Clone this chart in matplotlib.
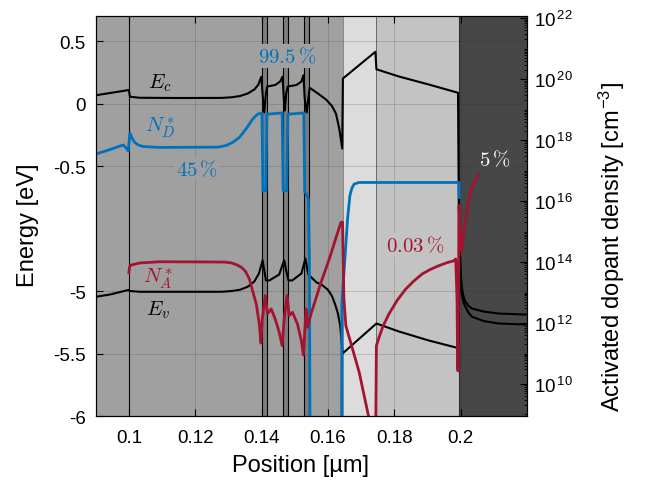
import numpy as np
import matplotlib
matplotlib.use('Agg')
import matplotlib.pyplot as plt
from matplotlib.ticker import LogLocator, NullFormatter, FixedLocator

plt.rcParams['font.family'] = ['Liberation Sans', 'DejaVu Sans']
plt.rcParams['mathtext.fontset'] = 'cm'

# layer stack, position in um
layer_edges = [0.09, 0.1645, 0.1745, 0.1995, 0.22]
layer_colors = ['#a0a0a0', '#dcdcdc', '#c3c3c3', '#474747']
thin_layers = [(0.14015, 0.14153), (0.14634, 0.14796), (0.15285, 0.15435)]

# conduction band edge [eV]
ec_x = [0.0900, 0.0943, 0.0995, 0.1000, 0.1003, 0.1033, 0.1153, 0.1280, 0.1310, 0.1335,
        0.1358, 0.1378, 0.1390, 0.1399, 0.1404, 0.1408, 0.1413, 0.1417, 0.1441, 0.1456,
        0.1463, 0.1467, 0.1470, 0.1474, 0.1479, 0.1505, 0.1520, 0.1526, 0.1530, 0.1536,
        0.1541, 0.1545, 0.1574, 0.1595, 0.1612, 0.1624, 0.1634, 0.1643, 0.1645, 0.1743,
        0.1746, 0.1814, 0.1904, 0.1992, 0.1995, 0.1997, 0.2000, 0.2004, 0.2009, 0.2014,
        0.2024, 0.2034, 0.2069, 0.2114, 0.2195]
ec_e = [0.066, 0.084, 0.106, 0.108, 0.054, 0.046, 0.044, 0.045, 0.050, 0.060,
        0.080, 0.112, 0.150, 0.214, 0.040, -0.072, 0.080, 0.136, 0.148, 0.176,
        0.214, 0.040, -0.056, 0.080, 0.136, 0.148, 0.176, 0.226, 0.040, -0.072,
        0.040, 0.126, 0.072, 0.030, -0.020, -0.080, -0.200, -0.360, 0.200, 0.414,
        0.274, 0.216, 0.152, 0.086, -4.60, -4.66, -4.86, -4.98, -5.05, -5.084,
        -5.12, -5.14, -5.164, -5.18, -5.188]

# valence band edge [eV]
ev_x = [0.0900, 0.0943, 0.0998, 0.1003, 0.1033, 0.1280, 0.1310, 0.1335, 0.1358, 0.1378,
        0.1392, 0.1403, 0.1408, 0.1413, 0.1423, 0.1453, 0.1468, 0.1474, 0.1481, 0.1492,
        0.1520, 0.1532, 0.1536, 0.1541, 0.1565, 0.1583, 0.1600, 0.1612, 0.1622, 0.1630,
        0.1637, 0.1644, 0.1746, 0.1814, 0.1904, 0.1989, 0.1992, 0.1998, 0.2001, 0.2004,
        0.2009, 0.2014, 0.2024, 0.2034, 0.2069, 0.2114, 0.2195]
ev_e = [-5.046, -5.028, -4.992, -5.000, -5.006, -5.006, -5.000, -4.990, -4.966, -4.924,
        -4.860, -4.754, -4.836, -4.914, -4.916, -4.868, -4.754, -4.836, -4.914, -4.916,
        -4.860, -4.740, -4.804, -4.868, -4.930, -4.954, -4.990, -5.040, -5.110, -5.180,
        -5.280, -5.500, -5.260, -5.324, -5.396, -5.454, -5.454, -4.724, -4.930, -5.034,
        -5.095, -5.124, -5.175, -5.206, -5.240, -5.260, -5.268]

# activated donors, log10 [cm^-3]
nd_x = [0.0900, 0.0943, 0.0983, 0.0995, 0.0998, 0.1003, 0.1010, 0.1018, 0.1028, 0.1043,
        0.1093, 0.1270, 0.1295, 0.1315, 0.1333, 0.1345, 0.1357, 0.1373, 0.1388, 0.1401,
        0.1404, 0.1413, 0.1416, 0.1462, 0.1465, 0.1476, 0.1479, 0.1527, 0.1530, 0.1535,
        0.1541, 0.1544, 0.1546, 0.1641, 0.1642, 0.1649, 0.1659, 0.1666, 0.1672, 0.1679,
        0.1694, 0.1814, 0.1995, 0.1996]
nd_log = [17.54, 17.69, 17.84, 17.70, 17.64, 18.23, 18.05, 17.92, 17.84, 17.79,
          17.76, 17.77, 17.83, 17.94, 18.09, 18.25, 18.43, 18.69, 18.85, 18.89,
          16.34, 16.34, 18.85, 18.89, 16.34, 16.34, 18.85, 18.89, 16.30, 16.23,
          16.07, 14.10, 8.00, 8.00, 12.68, 13.77, 15.41, 16.17, 16.42, 16.56,
          16.61, 16.61, 16.61, 16.12]

# activated acceptors, log10 [cm^-3]
na_x = [0.1000, 0.1002, 0.1006, 0.1033, 0.1093, 0.1288, 0.1310, 0.1327, 0.1340, 0.1351,
        0.1363, 0.1373, 0.1384, 0.1393, 0.1398, 0.1402, 0.1411, 0.1418, 0.1429, 0.1441,
        0.1453, 0.1462, 0.1468, 0.1477, 0.1483, 0.1493, 0.1508, 0.1520, 0.1526, 0.1534,
        0.1538, 0.1549, 0.1579, 0.1604, 0.1622, 0.1639, 0.1644, 0.1648, 0.1654, 0.1694,
        0.1731, 0.1744, 0.1746, 0.1754, 0.1766, 0.1784, 0.1809, 0.1834, 0.1859, 0.1884,
        0.1909, 0.1934, 0.1959, 0.1979, 0.1985, 0.1989, 0.1991, 0.1992, 0.1995, 0.1999,
        0.2004, 0.2007, 0.2014, 0.2029, 0.2042, 0.2054]
na_log = [13.66, 13.84, 13.90, 13.97, 14.01, 14.00, 13.97, 13.90, 13.82, 13.70,
          13.45, 13.05, 12.62, 11.97, 11.34, 12.13, 12.90, 12.30, 12.46, 12.13,
          11.70, 11.26, 12.13, 12.90, 12.24, 12.35, 11.97, 11.41, 10.95, 12.46,
          11.86, 12.30, 13.33, 14.10, 14.72, 15.30, 15.31, 12.79, 11.91, 10.39,
          8.50, 8.50, 11.26, 11.53, 11.90, 12.30, 12.75, 13.11, 13.38, 13.61,
          13.76, 13.88, 13.98, 14.04, 14.10, 12.79, 10.49, 10.43, 15.85, 14.92,
          14.33, 14.75, 15.31, 16.29, 16.66, 16.85]

e_ticks = [-6, -5.5, -5, -0.5, 0, 0.5]
e_ticklabels = ['-6', '-5.5', '-5', '-0.5', '0', '0.5']
x_ticks = [0.1, 0.12, 0.14, 0.16, 0.18, 0.2]
x_ticklabels = ['0.1', '0.12', '0.14', '0.16', '0.18', '0.2']
n_ticks = [10, 12, 14, 16, 18, 20, 22]


def to_disp(e):
    # band gap is cut out of the energy axis: valence part shifted up by 3.5 eV
    e = np.asarray(e, dtype=float)
    return np.where(e < -1, e + 3.5, e)


W, H = 645, 485
fig = plt.figure(figsize=(W / 100, H / 100), dpi=100)
ax1 = fig.add_axes([0.1484, 0.1402, 0.6687, 0.8247])

# layers
for i, c in enumerate(layer_colors):
    ax1.axvspan(layer_edges[i], layer_edges[i + 1], color=c, zorder=0, lw=0)
for a, b in thin_layers:
    ax1.axvspan(a, b, facecolor='#7d7d7d', edgecolor='black', lw=0.8, zorder=0.5)
ax1.axvline(0.1, color='black', lw=0.8, zorder=0.6)
ax1.axvline(layer_edges[1], color='#7a7a7a', lw=0.6, zorder=0.6)
ax1.axvline(layer_edges[2], color='#5a5a5a', lw=0.6, zorder=0.6)
ax1.axvline(layer_edges[3], color='#2a2a2a', lw=0.8, zorder=0.6)

ax1.plot(ec_x, to_disp(ec_e), color='black', lw=1.5, zorder=3)
ax1.plot(ev_x, to_disp(ev_e), color='black', lw=1.5, zorder=3)

ax1.set_xlim(0.09, 0.22)
ax1.set_ylim(-2.5, 0.7)
ax1.set_xticks(x_ticks)
ax1.set_xticklabels(x_ticklabels)
ax1.set_yticks(to_disp(e_ticks))
ax1.set_yticklabels(e_ticklabels)
ax1.grid(True, color='#262626', alpha=0.18, lw=0.7)
ax1.tick_params(direction='in', top=True, right=False, length=5, labelsize=13.5, pad=7)
ax1.tick_params(axis='x', pad=9)

# dopants on the log axis
ax2 = ax1.twinx()
ax2.set_yscale('log')
ax2.plot(nd_x, 10.0 ** np.array(nd_log), color='#0072BD', lw=2.0)
ax2.plot(na_x, 10.0 ** np.array(na_log), color='#A2142F', lw=2.0)
ax2.set_ylim(10 ** 8.95, 10 ** 22.07)
ax2.yaxis.set_major_locator(FixedLocator([10.0 ** k for k in n_ticks]))
ax2.set_yticklabels([r'$\mathregular{10^{\,%d}}$' % k for k in n_ticks])
ax2.yaxis.set_minor_locator(LogLocator(base=10, subs=np.arange(1, 10), numticks=100))
ax2.yaxis.set_minor_formatter(NullFormatter())
ax2.tick_params(which='both', direction='in', labelsize=13.5, pad=5)
ax2.tick_params(which='major', length=5)
ax2.tick_params(which='minor', length=2.5)

for ax in (ax1, ax2):
    for s in ax.spines.values():
        s.set_linewidth(0.8)

# axis titles placed like the original
fig.text(300 / W, 1 - 466 / H, 'Position [µm]', fontsize=17, ha='center', va='center')
fig.text(28 / W, 1 - 225 / H, 'Energy [eV]', fontsize=17, ha='center', va='center', rotation=90)
fig.text(612 / W, 1 - 247 / H, r'Activated dopant density [cm$^{\mathregular{-3}}$]',
         fontsize=17, ha='center', va='center', rotation=90)

# annotations (x in um, y in axis energy units)
fs = 15
ax1.text(0.1093, 0.168, r'$E_c$', fontsize=fs, ha='center', va='center', zorder=4)
ax1.text(0.1093, -0.184, r'$N_D^*$', fontsize=fs, color='#0072BD', ha='center', va='center', zorder=4)
ax1.text(0.1204, -0.52, r'$45\,\%$', fontsize=fs, color='#0072BD', ha='center', va='center', zorder=4,
         bbox=dict(facecolor='#a0a0a0', edgecolor='none', pad=1))
ax1.text(0.1476, 0.38, r'$99.5\,\%$', fontsize=fs, color='#0072BD', ha='center', va='center', zorder=4,
         bbox=dict(facecolor='#a0a0a0', edgecolor='none', pad=1))
ax1.text(0.1089, -1.392, r'$N_A^*$', fontsize=fs, color='#A2142F', ha='center', va='center', zorder=4)
ax1.text(0.1089, -1.648, r'$E_v$', fontsize=fs, ha='center', va='center', zorder=4)
ax1.text(0.1863, -1.132, r'$0.03\,\%$', fontsize=fs, color='#A2142F', ha='center', va='center', zorder=4,
         bbox=dict(facecolor='#c3c3c3', edgecolor='none', pad=1))
ax1.text(0.2102, -0.44, r'$5\,\%$', fontsize=fs, color='white', ha='center', va='center', zorder=4,
         bbox=dict(facecolor='#474747', edgecolor='none', pad=1))

fig.savefig('out.png', dpi=100)
